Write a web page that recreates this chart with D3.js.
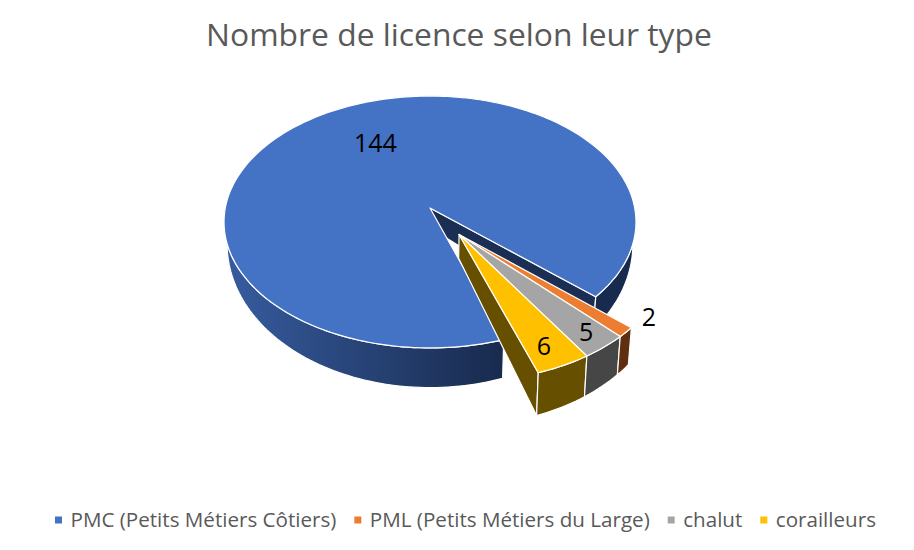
<!DOCTYPE html>
<html>
<head>
<meta charset="utf-8">
<script src="https://cdnjs.cloudflare.com/ajax/libs/d3/7.8.5/d3.min.js"></script>
<style>
	body { margin: 0; background: #fff; }
	svg { display: block; }
	text { font-family: "Open Sans", sans-serif; }
</style>
</head>
<body>
<script>
var titleText = "Nombre de licence selon leur type";
var categories = ["PMC (Petits Métiers Côtiers)", "PML (Petits Métiers du Large)", "chalut", "corailleurs"];
var values = [144, 2, 5, 6];
var topColors = ["#4472c4", "#ed7d31", "#a5a5a5", "#ffc000"];
var wallColors = ["#1b2e54", "#5f2f10", "#464646", "#665000"];

var width = 914, height = 550;

// projection of the pie plane, fitted on the picture
var cx = 430, cy = 208;
var scaleU = 204.7, scaleV = 124.4, persp = 0.111;
var startDeg = 161.2;
var explodeDist = 0.25;

var svg = d3.select("body").append("svg")
	.attr("width", width)
	.attr("height", height);

// side of the big slice goes darker toward the cut
var grad = svg.append("defs").append("linearGradient")
	.attr("id", "wallGrad")
	.attr("gradientUnits", "userSpaceOnUse")
	.attr("x1", 228).attr("x2", 504)
	.attr("y1", 0).attr("y2", 0);
grad.append("stop").attr("offset", 0).attr("stop-color", "#365b9e");
grad.append("stop").attr("offset", 1).attr("stop-color", "#182a4d");

var start = startDeg * Math.PI / 180;
var arcs = d3.pie().sort(null)
	.startAngle(start)
	.endAngle(start + 2 * Math.PI)(values);

// plane coords: u to the right, v toward the viewer. bottom = true for lower face
function project(p, bottom) {
	var w = 1 - persp * p[1];
	var x = scaleU * p[0] / w;
	var y = scaleV * p[1] / w;
	if (bottom) {
		x *= 0.985;
		y += 19.7 + 20 * p[1];
	}
	return [cx + x, cy + y];
}

function slicePoints(d) {
	var off = [0, 0];
	if (d.index > 0) {
		var midAll = start + 2 * Math.PI * values[0] / d3.sum(values)
			+ Math.PI * (d3.sum(values) - values[0]) / d3.sum(values);
		off = [explodeDist * Math.sin(midAll), -explodeDist * Math.cos(midAll)];
	}
	var n = Math.max(8, Math.round((d.endAngle - d.startAngle) * 40));
	var rim = d3.range(n + 1).map(function(i) {
		var a = d.startAngle + (d.endAngle - d.startAngle) * i / n;
		return [off[0] + Math.sin(a), off[1] - Math.cos(a)];
	});
	return {center: off, rim: rim};
}

var line = d3.line().curve(d3.curveLinear);

function face(pts) {
	return line(pts) + "Z";
}

function drawShape(pts, fill) {
	svg.append("path")
		.attr("d", face(pts))
		.attr("fill", fill)
		.attr("stroke", "#fff")
		.attr("stroke-width", 1.2)
		.attr("stroke-linejoin", "round");
}

function drawSlice(d) {
	var s = slicePoints(d);
	var wall = d.index == 0 ? "url(#wallGrad)" : wallColors[d.index];
	var last = s.rim[s.rim.length - 1];

	if (d.index == 0 || d.index == 3) {
		// cut wall: inside the opening for the big slice, left side for the last one
		drawShape([project(s.center), project(last), project(last, true), project(s.center, true)], wallColors[d.index]);
	}
	// outer wall
	var upper = s.rim.map(function(p) { return project(p); });
	var lower = s.rim.map(function(p) { return project(p, true); }).reverse();
	drawShape(upper.concat(lower), wall);
}

function drawTop(d) {
	var s = slicePoints(d);
	var pts = [project(s.center)].concat(s.rim.map(function(p) { return project(p); }));
	drawShape(pts, topColors[d.index]);
}

// far to near: big slice first, then the pulled out ones
drawSlice(arcs[0]);
drawTop(arcs[0]);
[arcs[3], arcs[2], arcs[1]].forEach(drawSlice);
arcs.slice(1).forEach(drawTop);

svg.append("text")
	.attr("x", 459)
	.attr("y", 46)
	.attr("text-anchor", "middle")
	.attr("font-size", 31.8)
	.attr("fill", "#595959")
	.text(titleText);

// data labels: mid angle on the face, nudged like the original
var labelRadius = [0.62, 1.12, 0.82, 0.82];
var labelNudge = [[12, -4], [1, -28], [10, 7], [1, 6]];
arcs.forEach(function(d, i) {
	var s = slicePoints(d);
	var mid = (d.startAngle + d.endAngle) / 2;
	var p = project([s.center[0] + labelRadius[i] * Math.sin(mid), s.center[1] - labelRadius[i] * Math.cos(mid)]);
	svg.append("text")
		.attr("x", p[0] + labelNudge[i][0])
		.attr("y", p[1] + labelNudge[i][1])
		.attr("dy", "0.36em")
		.attr("text-anchor", "middle")
		.attr("font-size", 25)
		.attr("fill", "#000")
		.text(d.data);
});

// legend, laid out from the text widths
var legendY = 520, legendX = 55;
categories.forEach(function(c, i) {
	svg.append("rect")
		.attr("x", legendX)
		.attr("y", legendY - 3.5)
		.attr("width", 7)
		.attr("height", 7)
		.attr("fill", topColors[i]);
	var t = svg.append("text")
		.attr("x", legendX + 15.5)
		.attr("y", legendY)
		.attr("dy", "0.36em")
		.attr("font-size", 20.6)
		.attr("fill", "#595959")
		.text(c);
	legendX += 15.5 + t.node().getComputedTextLength() + 18;
});
</script>
</body>
</html>
